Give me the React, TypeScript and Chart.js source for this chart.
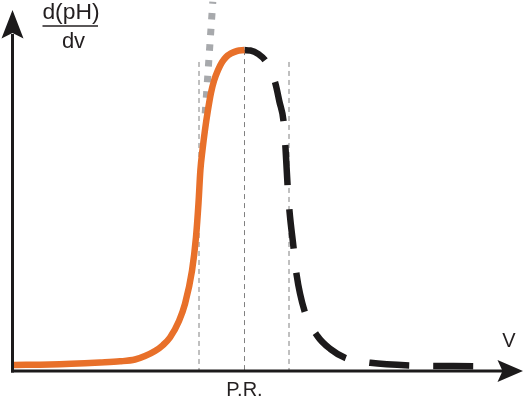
import React, { useEffect, useRef } from "react";
import { Chart, registerables } from "chart.js";

Chart.register(...registerables);

// Titrant volume (arbitrary units) and first derivative d(pH)/dv (arbitrary units)
const risingV = [0.15, 3.75, 8.75, 10.75, 12.25, 13.25, 14.25, 15.05, 15.75, 16.65, 17.25, 17.95, 18.35, 18.6, 18.79, 19.0, 19.25, 19.55, 19.85, 20.15, 20.55, 20.95, 21.35, 21.85, 22.45, 23.2];
const risingD = [1.62, 1.75, 2.3, 2.6, 3.1, 4.04, 5.39, 7.0, 9.03, 13.5, 18.1, 27.0, 36.1, 45.3, 54.2, 59.6, 65.0, 70.4, 75.0, 78.2, 81.1, 83.2, 84.6, 85.6, 86.25, 86.5];

const fallingV = [23.2, 23.8, 24.6, 25.3, 25.8, 26.3, 26.7, 27.1, 27.3, 27.5, 27.7, 28.1, 28.4, 29.2, 30.5, 31.8, 33.3, 35.8, 39.8, 46.1];
const fallingD = [86.5, 86.4, 85.4, 83.6, 80.9, 77.4, 72.5, 67.4, 60.1, 50.4, 43.1, 33.4, 26.1, 16.2, 9.4, 5.9, 3.5, 2.2, 1.5, 1.3];

const tangentV = [20.03, 19.25];
const tangentD = [99.5, 68.6];

const markerV = [18.65, 23.2, 27.65];
const markerTop = [83.3, 86.5, 83.3];

const yLabelTop = "d(pH)";
const yLabelBottom = "dv";
const xLabel = "V";
const markerLabel = "P.R.";

const toPoints = (xs: number[], ys: number[]) => xs.map((x, i) => ({ x, y: ys[i] }));

const decorPlugin = {
  id: "decor",
  afterDatasetsDraw(chart: any) {
    const { ctx, scales } = chart;
    const xs = scales.x;
    const ys = scales.y;
    const x0 = xs.getPixelForValue(0);
    const y0 = ys.getPixelForValue(0);
    const ink = "#1c1a1b";
    ctx.save();
    ctx.strokeStyle = ink;
    ctx.fillStyle = ink;
    ctx.lineWidth = 3;
    // y axis
    ctx.beginPath();
    ctx.moveTo(x0, y0 + 1.5);
    ctx.lineTo(x0, 34);
    ctx.stroke();
    ctx.beginPath();
    ctx.moveTo(x0, 10);
    ctx.lineTo(x0 + 11, 38.5);
    ctx.lineTo(x0, 33);
    ctx.lineTo(x0 - 11, 38.5);
    ctx.closePath();
    ctx.fill();
    // x axis
    ctx.beginPath();
    ctx.moveTo(x0 - 1.5, y0);
    ctx.lineTo(503, y0);
    ctx.stroke();
    ctx.beginPath();
    ctx.moveTo(523, y0);
    ctx.lineTo(497.5, y0 - 11);
    ctx.lineTo(502.5, y0);
    ctx.lineTo(497.5, y0 + 11);
    ctx.closePath();
    ctx.fill();

    // labels
    ctx.fillStyle = "#231f20";
    ctx.textAlign = "center";
    ctx.textBaseline = "alphabetic";
    ctx.font = '22px "Liberation Sans", Arial, sans-serif';
    ctx.save();
    ctx.translate(71, 18.5);
    ctx.scale(1.04, 1);
    ctx.fillText(yLabelTop, 0, 0);
    ctx.restore();
    ctx.fillText(yLabelBottom, 73.5, 47.5);
    ctx.lineWidth = 1.6;
    ctx.strokeStyle = "#231f20";
    ctx.beginPath();
    ctx.moveTo(42.5, 26);
    ctx.lineTo(98, 26);
    ctx.stroke();
    ctx.font = '20px "Liberation Sans", Arial, sans-serif';
    ctx.fillText(xLabel, 509, 347);
    ctx.fillText(markerLabel, xs.getPixelForValue(markerV[1]), 396);
    ctx.restore();
  },
};

export default function App() {
  const canvasRef = useRef<HTMLCanvasElement | null>(null);

  useEffect(() => {
    const canvas = canvasRef.current;
    if (!canvas) return;
    const markerSets = markerV.map((v, i) => ({
      label: "marker" + i,
      data: [
        { x: v, y: markerTop[i] },
        { x: v, y: 0 },
      ],
      borderColor: "#808080",
      borderWidth: 1,
      borderDash: [5, 4],
      pointRadius: 0,
      tension: 0,
      order: 3,
    }));
    const chart = new Chart(canvas, {
      type: "line",
      data: {
        datasets: [
          {
            label: "rising",
            data: toPoints(risingV, risingD),
            borderColor: "#e8702a",
            borderWidth: 6.5,
            pointRadius: 0,
            cubicInterpolationMode: "monotone",
            order: 0,
          },
          {
            label: "falling",
            data: toPoints(fallingV, fallingD),
            borderColor: "#1c1a1b",
            borderWidth: 6.5,
            borderDash: [40, 24],
            borderDashOffset: 16,
            pointRadius: 0,
            cubicInterpolationMode: "monotone",
            order: 1,
          },
          {
            label: "tangent",
            data: toPoints(tangentV, tangentD),
            borderColor: "#a7a9ac",
            borderWidth: 7,
            borderDash: [6.5, 9.2],
            borderDashOffset: 4.5,
            pointRadius: 0,
            tension: 0,
            order: 2,
          },
          ...markerSets,
        ] as any,
      },
      options: {
        animation: false,
        responsive: false,
        devicePixelRatio: 1,
        layout: { padding: { left: 12.5, right: 2.5, top: 0, bottom: 25 } },
        scales: {
          x: { type: "linear", min: 0, max: 51, display: false },
          y: { type: "linear", min: 0, max: 100, display: false },
        },
        plugins: { legend: { display: false }, tooltip: { enabled: false } },
        events: [],
      },
      plugins: [decorPlugin],
    });
    return () => chart.destroy();
  }, []);

  return (
    <div style={{ position: "absolute", left: 0, top: 0, width: 525, height: 396, background: "#fff" }}>
      <canvas ref={canvasRef} width={525} height={396} />
    </div>
  );
}
